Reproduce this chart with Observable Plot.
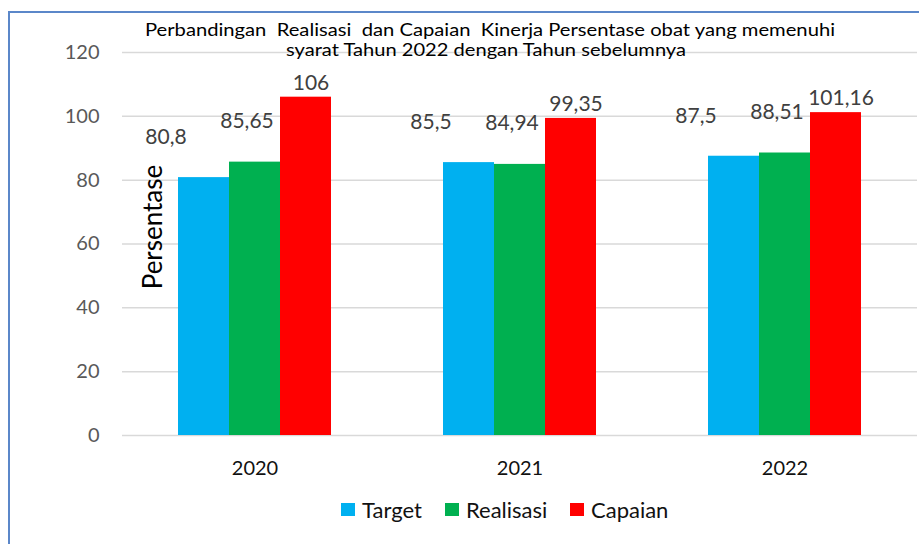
<!DOCTYPE html>
<html>
<head>
<meta charset="utf-8">
<script src="https://cdn.jsdelivr.net/npm/d3@7"></script>
<script src="https://cdn.jsdelivr.net/npm/@observablehq/plot@0.6"></script>
<style>
  html, body { margin: 0; padding: 0; background: #fff; }
  #wrap { position: relative; width: 919px; height: 544px; overflow: hidden; font-family: Lato, sans-serif; }
  #frame { position: absolute; left: 8px; top: 11px; width: 930px; height: 560px;
           border-left: 2px solid #5b87c9; border-top: 2px solid #5b87c9; box-sizing: border-box; }
  #chart { position: absolute; left: 0; top: 0; }
  g[aria-label^="y-axis"] text { fill: #595959; }
  g[aria-label^="fx-axis"] text { fill: #111; }
  .tline { position: absolute; white-space: pre; font-size: 17px; line-height: 20px; color: #000; transform-origin: 0 0; }
  #ylab { position: absolute; font-size: 26px; line-height: 30px; color: #000; white-space: pre; }
  #legend { position: absolute; top: 496px; left: 0; width: 919px; height: 26px; }
  .li { position: absolute; top: 0; height: 26px; display: flex; align-items: center; font-size: 22px; color: #111; }
  .sw { width: 14px; height: 13px; margin-right: 7px; }
</style>
</head>
<body>
<div id="wrap">
  <div id="frame"></div>
  <div id="chart"></div>
  <div id="legend"></div>
</div>
<script>
const years = ["2020", "2021", "2022"];
const series = ["Target", "Realisasi", "Capaian"];
const target = [80.8, 85.5, 87.5];
const realisasi = [85.65, 84.94, 88.51];
const capaian = [106, 99.35, 101.16];
const yTicks = [0, 20, 40, 60, 80, 100, 120];
const colors = ["#00b0f0", "#00b050", "#ff0000"];
const titleLines = [
  "Perbandingan  Realisasi  dan Capaian  Kinerja Persentase obat yang memenuhi",
  "syarat Tahun 2022 dengan Tahun sebelumnya"
];
const yLabel = "Persentase";

const valuesBySeries = [target, realisasi, capaian];
const rows = [];
series.forEach((s, si) => years.forEach((y, yi) => rows.push({ year: y, series: s, value: valuesBySeries[si][yi] })));
const fmt = v => String(v).replace(".", ",");

// per-series label offsets (labels in the original are hand-placed)
const labelOffsets = { Target: [-38, -40], Realisasi: [-8, -41], Capaian: [5, -14] };

const marks = [
  Plot.ruleY(yTicks, { stroke: "#d9d9d9", strokeWidth: 1.5 }),
  Plot.barY(rows, { fx: "year", x: "series", y: "value", fill: "series" })
];
series.forEach(s => {
  marks.push(Plot.text(rows.filter(d => d.series === s), {
    fx: "year", x: "series", y: "value", text: d => fmt(d.value),
    dx: labelOffsets[s][0], dy: labelOffsets[s][1], fill: "#404040", fontSize: 21
  }));
});

const chart = Plot.plot({
  width: 919,
  height: 485,
  marginLeft: 122,
  marginRight: 2,
  marginTop: 52,
  marginBottom: 50,
  style: { fontFamily: "Lato, sans-serif", fontSize: "20px", background: "transparent", overflow: "visible", color: "#111" },
  fx: { domain: years, padding: 0, label: null, tickSize: 0, tickPadding: 25, axis: "bottom" },
  x: { domain: series, paddingInner: 0, paddingOuter: 1.098, axis: null },
  y: { domain: [0, 120], ticks: yTicks, tickSize: 0, tickPadding: 23, label: null },
  color: { domain: series, range: colors },
  marks
});
document.getElementById("chart").appendChild(chart);

// Title lines (overlaid on the plot, as in the original)
const wrap = document.getElementById("wrap");
const titleSpec = [{ cx: 490, top: 20, w: 690 }, { cx: 486, top: 40, w: 400 }];
titleLines.forEach((t, i) => {
  const el = document.createElement("div");
  el.className = "tline";
  el.textContent = t;
  wrap.appendChild(el);
  const w = el.getBoundingClientRect().width;
  const k = titleSpec[i].w / w;
  el.style.left = (titleSpec[i].cx - titleSpec[i].w / 2) + "px";
  el.style.top = titleSpec[i].top + "px";
  el.style.transform = `scaleX(${k})`;
});

// Rotated y-axis label
const yl = document.createElement("div");
yl.id = "ylab";
yl.textContent = yLabel;
wrap.appendChild(yl);
const r = yl.getBoundingClientRect();
yl.style.left = (152 - r.width / 2) + "px";
yl.style.top = (227 - r.height / 2) + "px";
yl.style.transform = "rotate(-90deg)";

// Legend
const legend = document.getElementById("legend");
const legendX = [341, 445, 570];
series.forEach((s, i) => {
  const item = document.createElement("div");
  item.className = "li";
  item.style.left = legendX[i] + "px";
  const sw = document.createElement("span");
  sw.className = "sw";
  sw.style.background = colors[i];
  const tx = document.createElement("span");
  tx.textContent = s;
  item.appendChild(sw);
  item.appendChild(tx);
  legend.appendChild(item);
});
</script>
</body>
</html>
